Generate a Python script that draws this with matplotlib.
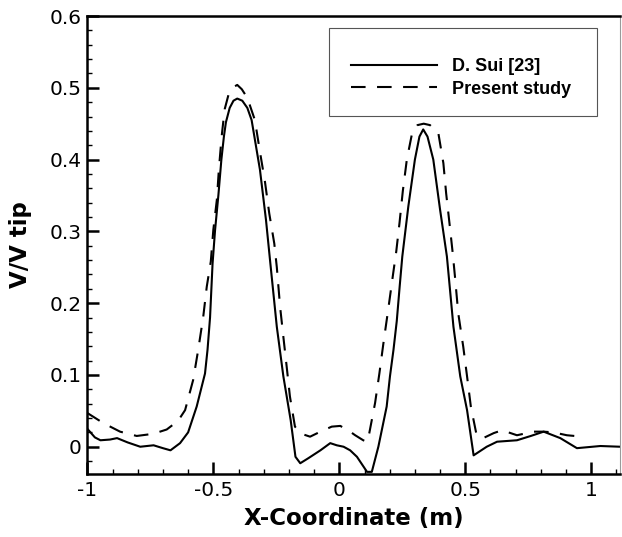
import numpy as np
import matplotlib
matplotlib.use("Agg")
import matplotlib.pyplot as plt
from matplotlib.patches import Rectangle
from matplotlib.ticker import MultipleLocator

plt.rcParams['axes.unicode_minus'] = False

# D. Sui [23] reference profile
sui_x = [-1.000, -0.970, -0.948, -0.910, -0.882, -0.840, -0.790, -0.737, -0.700,
         -0.670, -0.632, -0.600, -0.566, -0.533, -0.523, -0.513, -0.503, -0.493,
         -0.480, -0.468, -0.458, -0.450, -0.435, -0.420, -0.405, -0.385, -0.365,
         -0.348, -0.315, -0.291, -0.275, -0.248, -0.222, -0.193, -0.174, -0.155,
         -0.123, -0.075, -0.036, -0.010, 0.017, 0.043, 0.070, 0.110, 0.129, 0.155,
         0.188, 0.201, 0.215, 0.228, 0.240, 0.250, 0.274, 0.300, 0.318, 0.333,
         0.350, 0.373, 0.400, 0.427, 0.453, 0.480, 0.507, 0.533, 0.585, 0.626,
         0.705, 0.760, 0.811, 0.877, 0.943, 1.036, 1.114]
sui_y = [0.025, 0.013, 0.009, 0.010, 0.012, 0.006, 0.000, 0.002, -0.002,
         -0.005, 0.005, 0.020, 0.056, 0.102, 0.135, 0.180, 0.255, 0.302,
         0.350, 0.400, 0.432, 0.452, 0.472, 0.482, 0.485, 0.482, 0.472,
         0.455, 0.386, 0.316, 0.260, 0.167, 0.098, 0.037, -0.014, -0.023,
         -0.016, -0.005, 0.005, 0.002, 0.000, -0.005, -0.014, -0.035, -0.035, 0.000,
         0.056, 0.098, 0.135, 0.175, 0.225, 0.265, 0.335, 0.400, 0.432, 0.442,
         0.432, 0.400, 0.330, 0.265, 0.167, 0.098, 0.051, -0.012, 0.000, 0.007,
         0.009, 0.015, 0.021, 0.012, -0.002, 0.001, 0.000]

# present simulation
sim_x = [-1.000, -0.937, -0.870, -0.804, -0.738, -0.685, -0.640, -0.612, -0.580,
         -0.560, -0.540, -0.526, -0.510, -0.500, -0.486, -0.478, -0.467, -0.455,
         -0.440, -0.420, -0.405, -0.387, -0.365, -0.335, -0.315, -0.295, -0.278,
         -0.258, -0.248, -0.235, -0.222, -0.209, -0.196, -0.176, -0.150, -0.116,
         -0.075, -0.030, 0.004, 0.043, 0.063, 0.095, 0.110, 0.119, 0.142, 0.159,
         0.175, 0.194, 0.214, 0.226, 0.239, 0.252, 0.268, 0.289, 0.310, 0.335,
         0.360, 0.393, 0.413, 0.424, 0.437, 0.450, 0.459, 0.472, 0.492, 0.507,
         0.522, 0.545, 0.571, 0.613, 0.646, 0.705, 0.771, 0.811, 0.850, 0.903, 0.965]
sim_y = [0.047, 0.033, 0.021, 0.015, 0.018, 0.024, 0.036, 0.051, 0.093,
         0.135, 0.181, 0.223, 0.258, 0.302, 0.344, 0.386, 0.432, 0.470,
         0.490, 0.501, 0.504, 0.498, 0.486, 0.455, 0.411, 0.369, 0.325,
         0.283, 0.250, 0.195, 0.153, 0.112, 0.070, 0.028, 0.018, 0.014,
         0.021, 0.028, 0.029, 0.021, 0.016, 0.009, 0.007, 0.019, 0.061, 0.102,
         0.144, 0.191, 0.242, 0.272, 0.312, 0.356, 0.400, 0.437, 0.448, 0.450,
         0.448, 0.437, 0.395, 0.353, 0.312, 0.270, 0.237, 0.186, 0.139, 0.098,
         0.056, 0.016, 0.012, 0.019, 0.023, 0.016, 0.021, 0.021, 0.020, 0.016, 0.014]

x_ticks = [-1, -0.5, 0, 0.5, 1]
x_labels = ['-1', '-0.5', '0', '0.5', '1']
y_ticks = [0, 0.1, 0.2, 0.3, 0.4, 0.5, 0.6]
y_labels = ['0', '0.1', '0.2', '0.3', '0.4', '0.5', '0.6']

fig = plt.figure(figsize=(6.22, 5.37), dpi=100)
ax = fig.add_axes([0.1404, 0.1173, 0.8564, 0.8529])

ax.plot(sui_x, sui_y, color='black', lw=1.5, solid_joinstyle='round',
        label='D. Sui [23]')
ax.plot(sim_x, sim_y, color='black', lw=1.5, dashes=(7, 5.5),
        dash_joinstyle='round', label='Present study')

ax.set_xlim(-1, 1.114)
ax.set_ylim(-0.038, 0.6)

ax.set_xticks(x_ticks)
ax.set_xticklabels(x_labels)
ax.set_yticks(y_ticks)
ax.set_yticklabels(y_labels)
ax.xaxis.set_minor_locator(MultipleLocator(0.1))
ax.yaxis.set_minor_locator(MultipleLocator(0.02))

ax.tick_params(which='major', direction='in', length=8.6, width=1.8,
               labelsize=14.5, top=False, right=False)
ax.tick_params(which='minor', direction='in', length=3.6, width=1.0,
               top=False, right=False)
ax.tick_params(axis='x', pad=5)
ax.tick_params(axis='y', pad=4)

for side in ['left', 'bottom', 'top']:
    ax.spines[side].set_linewidth(1.8)
ax.spines['right'].set_linewidth(0.8)
ax.spines['right'].set_color('#9a9a9a')

ax.set_xlabel('X-Coordinate (m)', fontsize=16.5, fontweight='bold', labelpad=5)
ax.set_ylabel('V/V tip', fontsize=16.5, fontweight='bold', labelpad=13)

# legend box
ax.add_patch(Rectangle((0.4543, 0.7817), 0.9574 - 0.4543, 0.9731 - 0.7817,
                       transform=ax.transAxes, fill=False, edgecolor='#555555',
                       lw=0.8, zorder=3))
ax.legend(loc='upper left', bbox_to_anchor=(0.4945, 0.908), frameon=False,
          borderpad=0, borderaxespad=0, handlelength=4.78, handletextpad=0.83,
          labelspacing=0.30,
          prop={'family': 'Liberation Sans', 'weight': 'bold', 'size': 13})

fig.savefig('out.png', dpi=100)
